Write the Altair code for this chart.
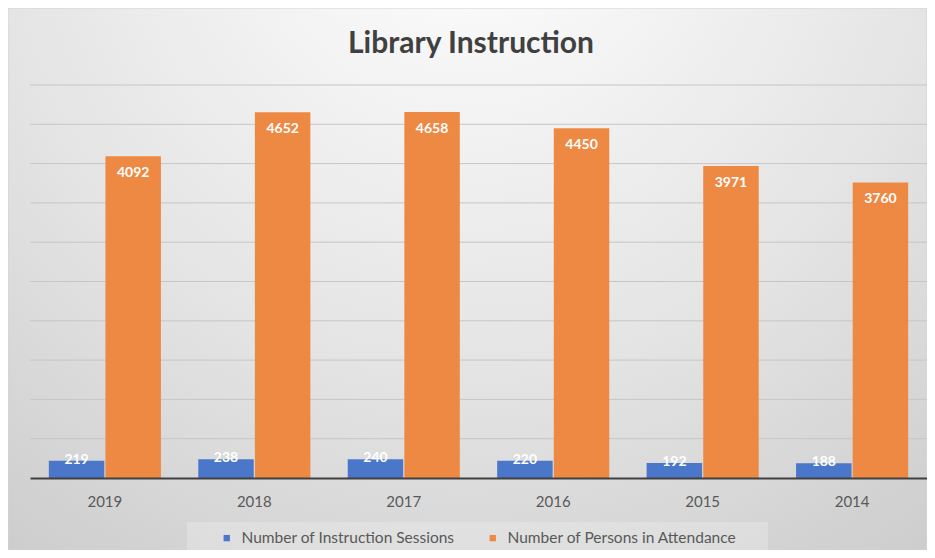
import altair as alt
import pandas as pd

# ---- data ----
years = ["2019", "2018", "2017", "2016", "2015", "2014"]
sessions = [219, 238, 240, 220, 192, 188]
persons = [4092, 4652, 4658, 4450, 3971, 3760]
series_names = ["Number of Instruction Sessions", "Number of Persons in Attendance"]
series_colors = ["#4A77C9", "#EE8944"]
title_text = "Library Instruction"
grid_values = [500, 1000, 1500, 2000, 2500, 3000, 3500, 4000, 4500, 5000]

rows = []
for yr, s, p in zip(years, sessions, persons):
    rows.append({"year": yr, "series": series_names[0], "value": s})
    rows.append({"year": yr, "series": series_names[1], "value": p})
df = pd.DataFrame(rows)

W, H = 897, 393
FONT = "Lato"

one = pd.DataFrame({"t": [title_text]})

y_scale = alt.Scale(domain=[0, 5000], nice=False, zero=True)
x_enc = alt.X(
    "year:N",
    sort=years,
    scale=alt.Scale(paddingInner=0.25, paddingOuter=0.126),
    axis=alt.Axis(
        title=None, ticks=False, labelAngle=0, labelFontSize=15, labelFont=FONT,
        labelColor="#595959", labelPadding=16, domainColor="#404040",
        domainWidth=2, grid=False, zindex=1,
    ),
)
xoff = alt.XOffset("series:N", sort=series_names, scale=alt.Scale(paddingInner=0.02))

background = alt.Chart(one).mark_rect(
    fill=alt.Gradient(
        gradient="radial",
        stops=[
            alt.GradientStop(color="#ffffff", offset=0),
            alt.GradientStop(color="#e4e4e4", offset=0.55),
            alt.GradientStop(color="#c8c8c8", offset=1),
        ],
        x1=0.5, y1=0.08, r1=0, x2=0.5, y2=0.08, r2=0.95,
    ),
    stroke="#d4d4d4",
    strokeWidth=1,
).encode(x=alt.value(-22), x2=alt.value(W), y=alt.value(-77), y2=alt.value(465))

legend_box = alt.Chart(one).mark_rect(fill="#ffffff", opacity=0.22).encode(
    x=alt.value(157), x2=alt.value(738), y=alt.value(437), y2=alt.value(465)
)

grid = alt.Chart(pd.DataFrame({"g": grid_values})).mark_rule(
    color="#c6c6c6", strokeWidth=1
).encode(y=alt.Y("g:Q", scale=y_scale, axis=None), x=alt.value(0), x2=alt.value(W))

bars = alt.Chart(df).mark_bar().encode(
    x=x_enc,
    xOffset=xoff,
    y=alt.Y("value:Q", scale=y_scale, axis=None),
    color=alt.Color(
        "series:N",
        sort=series_names,
        scale=alt.Scale(domain=series_names, range=series_colors),
        legend=alt.Legend(
            title=None, orient="none", direction="horizontal", legendX=189, legendY=445,
            symbolType="square", symbolSize=40, labelFontSize=15.5, labelFont=FONT,
            labelColor="#595959", labelOffset=7, columnPadding=30, padding=0,
            symbolStrokeWidth=0, labelLimit=0, zindex=1,
        ),
    ),
)

label_props = dict(color="white", font=FONT, fontSize=14, fontWeight="bold", baseline="middle", align="center")

labels_sessions = alt.Chart(df).transform_filter(
    alt.datum.series == series_names[0]
).mark_text(dy=-1, **label_props).encode(
    x=x_enc, xOffset=xoff, y=alt.Y("value:Q", scale=y_scale, axis=None), text="value:Q"
)

labels_persons = alt.Chart(df).transform_filter(
    alt.datum.series == series_names[1]
).mark_text(dy=17, **label_props).encode(
    x=x_enc, xOffset=xoff, y=alt.Y("value:Q", scale=y_scale, axis=None), text="value:Q"
)

title = alt.Chart(one).mark_text(
    font=FONT, fontSize=30, fontWeight="bold", color="#404040", baseline="middle", align="center"
).encode(text="t:N", x=alt.value(441), y=alt.value(-41))

chart = alt.layer(
    background, legend_box, grid, bars, labels_sessions, labels_persons, title
).properties(
    width=W,
    height=H,
    padding={"left": 22, "top": 77, "right": 0, "bottom": 72},
    autosize=alt.AutoSizeParams(type="none"),
).configure_view(stroke=None).configure(background="#ffffff")

chart.save("out.html", embed_options={"renderer": "svg", "actions": False})
